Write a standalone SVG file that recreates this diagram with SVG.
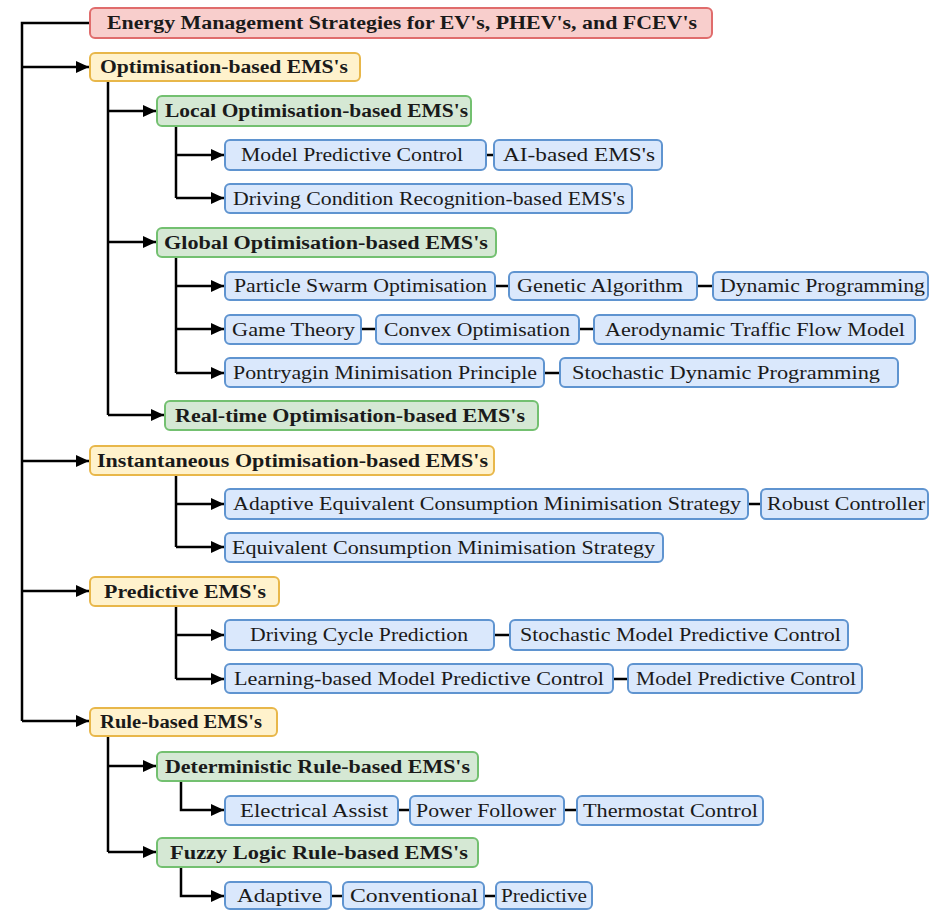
<svg xmlns="http://www.w3.org/2000/svg" width="930" height="910" viewBox="0 0 930 910">
<style>
.red{fill:#f8cecc;stroke:#e06c6c;stroke-width:2}
.org{fill:#fff2cc;stroke:#e8b74a;stroke-width:2}
.grn{fill:#d5e8d4;stroke:#73c070;stroke-width:2}
.blu{fill:#dae8fc;stroke:#5f94d0;stroke-width:2}
text{font-family:"Liberation Serif","Times New Roman",serif;font-size:18px;fill:#1a1a1a}
.b{font-weight:bold}
.c{fill:none;stroke:#000;stroke-width:2.5}
.s{fill:none;stroke:#000;stroke-width:2.5}
</style>
<defs>
<marker id="ah" markerUnits="userSpaceOnUse" markerWidth="13" markerHeight="12" refX="13" refY="6" orient="auto"><path d="M0,0 L13,6 L0,12 z" fill="#000"/></marker>
</defs>
<rect width="930" height="910" fill="#fff"/>
<g id="connectors">
<path class="c" d="M90,23 H22 V721"/>
<path class="c" d="M22,67 H89" marker-end="url(#ah)"/>
<path class="c" d="M22,461 H89" marker-end="url(#ah)"/>
<path class="c" d="M22,591 H89" marker-end="url(#ah)"/>
<path class="c" d="M22,721 H89" marker-end="url(#ah)"/>
<path class="c" d="M108,81 V415"/>
<path class="c" d="M108,111 H156" marker-end="url(#ah)"/>
<path class="c" d="M108,242 H156" marker-end="url(#ah)"/>
<path class="c" d="M108,415 H164" marker-end="url(#ah)"/>
<path class="c" d="M176,126 V198"/>
<path class="c" d="M176,155 H224" marker-end="url(#ah)"/>
<path class="c" d="M176,198 H224" marker-end="url(#ah)"/>
<path class="c" d="M176,257 V373"/>
<path class="c" d="M176,286 H224" marker-end="url(#ah)"/>
<path class="c" d="M176,329 H224" marker-end="url(#ah)"/>
<path class="c" d="M176,373 H224" marker-end="url(#ah)"/>
<path class="c" d="M176,475 V547"/>
<path class="c" d="M176,504 H224" marker-end="url(#ah)"/>
<path class="c" d="M176,547 H224" marker-end="url(#ah)"/>
<path class="c" d="M176,606 V679"/>
<path class="c" d="M176,635 H224" marker-end="url(#ah)"/>
<path class="c" d="M176,679 H224" marker-end="url(#ah)"/>
<path class="c" d="M108,736 V852"/>
<path class="c" d="M108,766 H156" marker-end="url(#ah)"/>
<path class="c" d="M108,852 H156" marker-end="url(#ah)"/>
<path class="c" d="M181,781 V810 H224" marker-end="url(#ah)"/>
<path class="c" d="M181,867 V896 H224" marker-end="url(#ah)"/>
<path class="s" d="M486,155 H494 M495,286 H509 M697,286 H713 M361,329 H376 M579,329 H594 M544,373 H560 M748,504 H761 M494,635 H510 M613,679 H628 M398,810 H410 M564,810 H577 M331,896 H343 M484,896 H496"/>
</g>
<g id="n-root"><rect class="red" x="90" y="8" width="622" height="30" rx="5"/><text class="b" x="107" y="29" textLength="590" lengthAdjust="spacingAndGlyphs">Energy Management Strategies for EV's, PHEV's, and FCEV's</text></g>
<g id="n-opt"><rect class="org" x="90" y="53" width="270" height="28" rx="5"/><text class="b" x="100" y="73" textLength="248" lengthAdjust="spacingAndGlyphs">Optimisation-based EMS's</text></g>
<g id="n-local"><rect class="grn" x="157" y="96" width="314" height="30" rx="5"/><text class="b" x="165" y="117" textLength="303" lengthAdjust="spacingAndGlyphs">Local Optimisation-based EMS's</text></g>
<g id="n-mpc1"><rect class="blu" x="225" y="140" width="261" height="30" rx="5"/><text x="241" y="161" textLength="222" lengthAdjust="spacingAndGlyphs">Model Predictive Control</text></g>
<g id="n-ai"><rect class="blu" x="494" y="140" width="168" height="30" rx="5"/><text x="503" y="161" textLength="152" lengthAdjust="spacingAndGlyphs">AI-based EMS's</text></g>
<g id="n-dcr"><rect class="blu" x="225" y="184" width="407" height="29" rx="5"/><text x="233" y="205" textLength="392" lengthAdjust="spacingAndGlyphs">Driving Condition Recognition-based EMS's</text></g>
<g id="n-global"><rect class="grn" x="157" y="228" width="339" height="29" rx="5"/><text class="b" x="164" y="249" textLength="324" lengthAdjust="spacingAndGlyphs">Global Optimisation-based EMS's</text></g>
<g id="n-pso"><rect class="blu" x="225" y="272" width="270" height="28" rx="5"/><text x="234" y="292" textLength="253" lengthAdjust="spacingAndGlyphs">Particle Swarm Optimisation</text></g>
<g id="n-ga"><rect class="blu" x="509" y="272" width="188" height="28" rx="5"/><text x="517" y="292" textLength="166" lengthAdjust="spacingAndGlyphs">Genetic Algorithm</text></g>
<g id="n-dp"><rect class="blu" x="713" y="272" width="215" height="28" rx="5"/><text x="720" y="292" textLength="205" lengthAdjust="spacingAndGlyphs">Dynamic Programming</text></g>
<g id="n-gt"><rect class="blu" x="225" y="315" width="136" height="29" rx="5"/><text x="232" y="336" textLength="123" lengthAdjust="spacingAndGlyphs">Game Theory</text></g>
<g id="n-cvx"><rect class="blu" x="376" y="315" width="203" height="29" rx="5"/><text x="384" y="336" textLength="186" lengthAdjust="spacingAndGlyphs">Convex Optimisation</text></g>
<g id="n-atf"><rect class="blu" x="594" y="315" width="321" height="29" rx="5"/><text x="605" y="336" textLength="300" lengthAdjust="spacingAndGlyphs">Aerodynamic Traffic Flow Model</text></g>
<g id="n-pmp"><rect class="blu" x="225" y="358" width="319" height="29" rx="5"/><text x="233" y="379" textLength="304" lengthAdjust="spacingAndGlyphs">Pontryagin Minimisation Principle</text></g>
<g id="n-sdp"><rect class="blu" x="560" y="358" width="338" height="29" rx="5"/><text x="572" y="379" textLength="308" lengthAdjust="spacingAndGlyphs">Stochastic Dynamic Programming</text></g>
<g id="n-rt"><rect class="grn" x="165" y="401" width="373" height="29" rx="5"/><text class="b" x="175" y="422" textLength="350" lengthAdjust="spacingAndGlyphs">Real-time Optimisation-based EMS's</text></g>
<g id="n-inst"><rect class="org" x="90" y="446" width="404" height="29" rx="5"/><text class="b" x="97" y="467" textLength="391" lengthAdjust="spacingAndGlyphs">Instantaneous Optimisation-based EMS's</text></g>
<g id="n-aecms"><rect class="blu" x="225" y="489" width="523" height="30" rx="5"/><text x="233" y="510" textLength="508" lengthAdjust="spacingAndGlyphs">Adaptive Equivalent Consumption Minimisation Strategy</text></g>
<g id="n-rc"><rect class="blu" x="761" y="489" width="167" height="30" rx="5"/><text x="767" y="510" textLength="158" lengthAdjust="spacingAndGlyphs">Robust Controller</text></g>
<g id="n-ecms"><rect class="blu" x="225" y="533" width="438" height="29" rx="5"/><text x="232" y="554" textLength="423" lengthAdjust="spacingAndGlyphs">Equivalent Consumption Minimisation Strategy</text></g>
<g id="n-pred"><rect class="org" x="90" y="577" width="189" height="29" rx="5"/><text class="b" x="104" y="598" textLength="162" lengthAdjust="spacingAndGlyphs">Predictive EMS's</text></g>
<g id="n-dcp"><rect class="blu" x="225" y="620" width="269" height="30" rx="5"/><text x="250" y="641" textLength="218" lengthAdjust="spacingAndGlyphs">Driving Cycle Prediction</text></g>
<g id="n-smpc"><rect class="blu" x="510" y="620" width="338" height="30" rx="5"/><text x="520" y="641" textLength="321" lengthAdjust="spacingAndGlyphs">Stochastic Model Predictive Control</text></g>
<g id="n-lmpc"><rect class="blu" x="225" y="664" width="388" height="29" rx="5"/><text x="234" y="685" textLength="370" lengthAdjust="spacingAndGlyphs">Learning-based Model Predictive Control</text></g>
<g id="n-mpc2"><rect class="blu" x="628" y="664" width="234" height="29" rx="5"/><text x="636" y="685" textLength="220" lengthAdjust="spacingAndGlyphs">Model Predictive Control</text></g>
<g id="n-rule"><rect class="org" x="90" y="708" width="187" height="28" rx="5"/><text class="b" x="100" y="728" textLength="162" lengthAdjust="spacingAndGlyphs">Rule-based EMS's</text></g>
<g id="n-det"><rect class="grn" x="157" y="752" width="321" height="29" rx="5"/><text class="b" x="165" y="773" textLength="305" lengthAdjust="spacingAndGlyphs">Deterministic Rule-based EMS's</text></g>
<g id="n-ea"><rect class="blu" x="225" y="796" width="173" height="29" rx="5"/><text x="240" y="817" textLength="148" lengthAdjust="spacingAndGlyphs">Electrical Assist</text></g>
<g id="n-pf"><rect class="blu" x="410" y="796" width="154" height="29" rx="5"/><text x="416" y="817" textLength="140" lengthAdjust="spacingAndGlyphs">Power Follower</text></g>
<g id="n-tc"><rect class="blu" x="577" y="796" width="186" height="29" rx="5"/><text x="583" y="817" textLength="175" lengthAdjust="spacingAndGlyphs">Thermostat Control</text></g>
<g id="n-fuzzy"><rect class="grn" x="157" y="838" width="321" height="29" rx="5"/><text class="b" x="170" y="859" textLength="298" lengthAdjust="spacingAndGlyphs">Fuzzy Logic Rule-based EMS's</text></g>
<g id="n-adp"><rect class="blu" x="225" y="882" width="106" height="27" rx="5"/><text x="237" y="902" textLength="85" lengthAdjust="spacingAndGlyphs">Adaptive</text></g>
<g id="n-conv"><rect class="blu" x="343" y="882" width="141" height="27" rx="5"/><text x="350" y="902" textLength="128" lengthAdjust="spacingAndGlyphs">Conventional</text></g>
<g id="n-prd"><rect class="blu" x="496" y="882" width="96" height="27" rx="5"/><text x="501" y="902" textLength="86" lengthAdjust="spacingAndGlyphs">Predictive</text></g>
</svg>
